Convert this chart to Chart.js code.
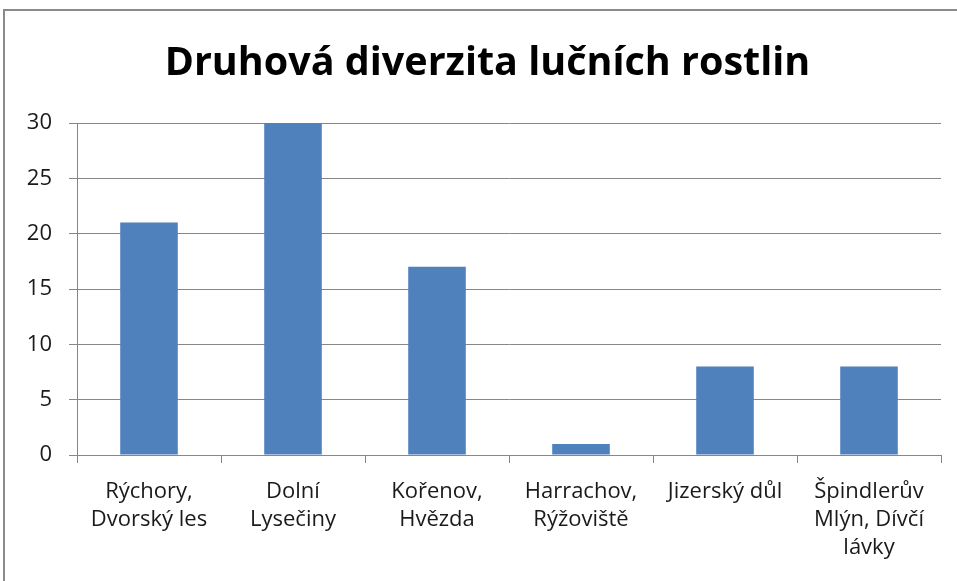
<!DOCTYPE html>
<html>
<head>
<meta charset="utf-8">
<script src="https://cdn.jsdelivr.net/npm/chart.js@4"></script>
<style>
  html, body { margin: 0; padding: 0; background: #fff; overflow: hidden; }
  #wrap { position: relative; width: 957px; height: 581px; }
  #frame { position: absolute; left: 3px; top: 9px; width: 980px; height: 600px; border: 2px solid #8a8a8a; }
  canvas { position: absolute; left: 0; top: 0; }
</style>
</head>
<body>
<div id="wrap">
  <div id="frame"></div>
  <canvas id="myChart" width="957" height="581"></canvas>
</div>
<script>
const titleText = 'Druhová diverzita lučních rostlin';
const categories = [
    ['Rýchory,', 'Dvorský les'],
    ['Dolní', 'Lysečiny'],
    ['Kořenov,', 'Hvězda'],
    ['Harrachov,', 'Rýžoviště'],
    ['Jizerský důl'],
    ['Špindlerův', 'Mlýn, Dívčí', 'lávky']
];
const values = [21, 30, 17, 1, 8, 8];
const yTicks = [0, 5, 10, 15, 20, 25, 30];

const fontFamily = '"Open Sans", "Noto Sans", sans-serif';

// title is centred on the outer frame, not on the plot, so draw it ourselves
const frameTitle = {
    id: 'frameTitle',
    afterDraw(chart) {
        const c = chart.ctx;
        c.save();
        c.font = 'bold 39.5px ' + fontFamily;
        c.fillStyle = '#000';
        c.textAlign = 'center';
        c.textBaseline = 'middle';
        c.fillText(titleText, chart.width / 2 + 9, 64);
        c.restore();
    }
};

var ctx = document.getElementById('myChart').getContext('2d');

var chart = new Chart(ctx, {
    type: 'bar',
    data: {
        labels: categories,
        datasets: [{
            label: 'diverzita',
            data: values,
            backgroundColor: '#4f81bd',
            borderWidth: 0,
            categoryPercentage: 1,
            barPercentage: 0.4
        }]
    },
    plugins: [frameTitle],
    options: {
        responsive: false,
        animation: false,
        layout: { padding: { left: 0, right: 16, top: 123, bottom: 0 } },
        plugins: {
            legend: { display: false },
            tooltip: { enabled: false },
            title: { display: false }
        },
        scales: {
            x: {
                grid: { drawOnChartArea: false, color: '#878787', tickLength: 8, offset: true },
                border: { color: '#878787' },
                ticks: {
                    color: '#1a1a1a',
                    font: { family: fontFamily, size: 22, lineHeight: 1.27 },
                    padding: 15,
                    maxRotation: 0,
                    autoSkip: false
                },
                afterFit: function (scale) { scale.height = 126; }
            },
            y: {
                min: 0,
                max: 30,
                afterBuildTicks: function (scale) { scale.ticks = yTicks.map(v => ({ value: v })); },
                grid: { color: '#878787', tickLength: 8 },
                border: { color: '#878787' },
                ticks: {
                    color: '#1a1a1a',
                    font: { family: fontFamily, size: 22 },
                    padding: 17
                },
                afterFit: function (scale) { scale.width = 77; }
            }
        }
    }
});
</script>
</body>
</html>
